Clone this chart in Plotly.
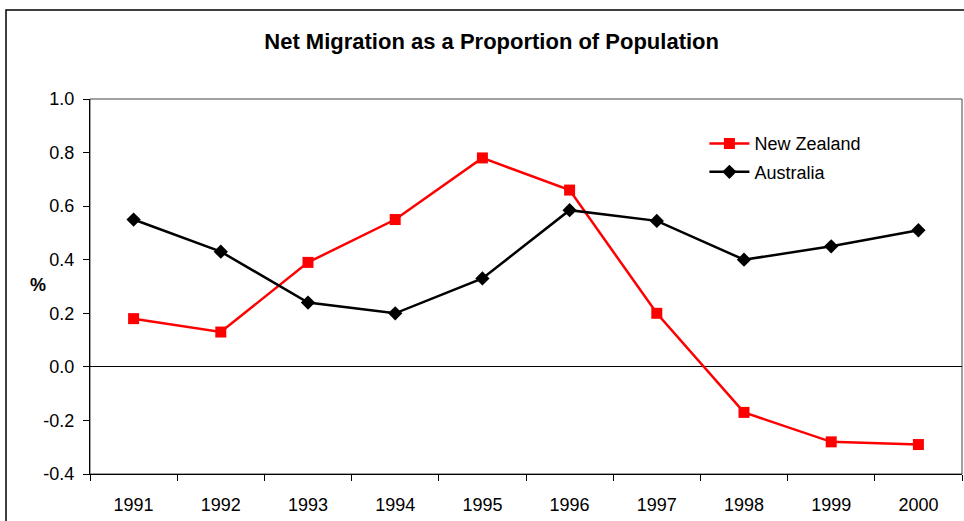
import plotly.graph_objects as go

# net migration as % of population
years = ["1991", "1992", "1993", "1994", "1995", "1996", "1997", "1998", "1999", "2000"]
new_zealand = [0.18, 0.13, 0.39, 0.55, 0.78, 0.66, 0.20, -0.17, -0.28, -0.29]
australia = [0.55, 0.43, 0.24, 0.20, 0.33, 0.585, 0.545, 0.40, 0.45, 0.51]
y_ticks = [-0.4, -0.2, 0.0, 0.2, 0.4, 0.6, 0.8, 1.0]

font = "Liberation Sans, Arial, sans-serif"

fig = go.Figure()
fig.add_trace(go.Scatter(
    x=years, y=new_zealand, name="New Zealand", mode="lines+markers",
    legendgroup="nz",
    line=dict(color="#FF0000", width=2.5),
    marker=dict(symbol="square", size=11, color="#FF0000"),
))
fig.add_trace(go.Scatter(
    x=years, y=australia, name="Australia", mode="lines+markers",
    legendgroup="au",
    line=dict(color="#000000", width=2.5),
    marker=dict(symbol="diamond", size=11, color="#000000"),
))

fig.update_layout(
    width=964, height=521,
    margin=dict(l=90, r=2, t=99, b=47),
    paper_bgcolor="white", plot_bgcolor="white",
    font=dict(family=font, size=18, color="black"),
    title=dict(text="<b>Net Migration as a Proportion of Population</b>",
               x=0.51, xanchor="center", y=0.92, yanchor="middle",
               font=dict(size=22)),
    legend=dict(x=0.7046, y=0.93, xanchor="left", yanchor="top",
                bgcolor="rgba(0,0,0,0)", font=dict(size=18),
                tracegroupgap=2, itemwidth=40),
    showlegend=True,
)

fig.update_xaxes(
    type="category", range=[-0.5, len(years) - 0.5],
    tickson="boundaries", ticks="outside", ticklen=6,
    tickcolor="black", showline=True, linecolor="black", linewidth=1,
    showgrid=False, ticklabelstandoff=14, automargin=False,
)
fig.update_yaxes(
    range=[-0.4, 1.0], tickvals=y_ticks, ticktext=[f"{v:.1f}" for v in y_ticks],
    ticks="outside", ticklen=6,
    tickcolor="black", showline=True, linecolor="black", linewidth=1,
    showgrid=False, zeroline=True, zerolinecolor="black", zerolinewidth=1,
    ticklabelstandoff=5, automargin=False,
)

# plot area frame (top and right edges)
fig.add_shape(type="rect", xref="paper", yref="paper", x0=0, y0=0, x1=1, y1=1,
              line=dict(color="#444444", width=1), layer="below")
# outer chart border, running off the right and bottom edges
fig.add_shape(type="rect", xref="paper", yref="paper",
              x0=-84 / 872, y0=-60 / 375, x1=1.1, y1=1 + 89 / 375,
              line=dict(color="black", width=1.5))

fig.add_annotation(text="<b>%</b>", xref="paper", yref="paper",
                   x=-62 / 872, y=(474 - 285) / 375, showarrow=False,
                   font=dict(size=18))

fig.write_html("out.html", config={"displayModeBar": False},
               post_script="document.body.style.margin='0';")
